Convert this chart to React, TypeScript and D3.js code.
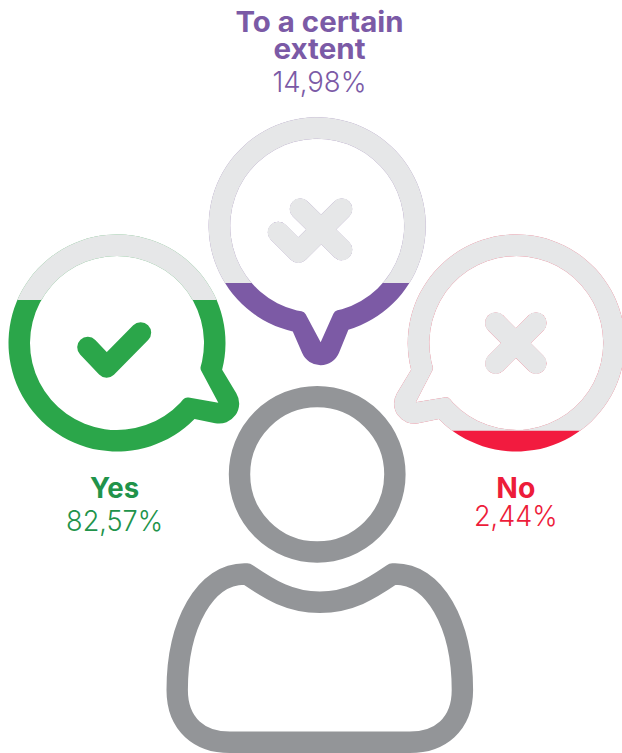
import React from "react";
import * as d3 from "d3";

// ---- data ----
const categories = ["Yes", "To a certain extent", "No"];
const percentLabels = ["82,57%", "14,98%", "2,44%"];
const fillLevels = [0.698, 0.236, 0.096]; // share of the bubble's circle height that is coloured
const ringColors = ["#2ba64a", "#7c5aa5", "#f21b3f"];
const textColors = ["#21934a", "#7b5aa6", "#ed1c3a"];
const emptyColor = "#e6e7e8";
const personColor = "#939598";

// ---- layout ----
const W = 622;
const H = 753;
const R_OUT = 108.5;
const R_IN = 87;
const RING = 21.4;
const TIP_ROUND = 20;
const CORNER_ROUND = 6;

type Pt = [number, number];
// tail angles are in degrees, clockwise from the +x axis
const layout = [
  {
    cx: 117, cy: 343,
    outerTail: [14.3, 44.4], innerTail: [17.2, 38.3],
    outerApex: [168.6, 32], innerApex: [117.6, 30.5],
    icons: [[[-29.3, 4.3], [-10.3, 24.2], [23.7, -10.3]]] as Pt[][],
  },
  {
    cx: 317.2, cy: 225.8,
    outerTail: [73.3, 103], innerTail: [78.5, 98.5],
    outerApex: [171, 88.7], innerApex: [116.6, 88.3],
    icons: [
      [[-38.9, 6.5], [-18.9, 26.5], [24.5, -16.8]],
      [[-16.9, -16.8], [24.5, 23.9]],
    ] as Pt[][],
  },
  {
    cx: 516.3, cy: 343,
    outerTail: [135.6, 165.7], innerTail: [141.7, 162.8],
    outerApex: [168.6, 148], innerApex: [116.6, 149.5],
    icons: [
      [[-20.6, -20], [19.7, 20.3]],
      [[19.7, -20], [-20.6, 20.3]],
    ] as Pt[][],
  },
];

const labelLayout = [
  { x: 114.6, lines: [{ y: 497.5, w: 49 }], pct: { y: 530.7, w: 97 } },
  { x: 319.5, lines: [{ y: 32, w: 168 }, { y: 58.7, w: 92 }], pct: { y: 91.7, w: 94 } },
  { x: 515.8, lines: [{ y: 497.7, w: 39 }], pct: { y: 526, w: 83.6 } },
];

const rad = (d: number) => (d * Math.PI) / 180;

function bubblePath(g: (typeof layout)[number]) {
  const polar = (r: number, deg: number): Pt => [
    g.cx + r * Math.cos(rad(deg)),
    g.cy + r * Math.sin(rad(deg)),
  ];
  const p = d3.path();

  // outer contour: circle, then a rounded tail tip
  const [oa, ob] = g.outerTail;
  const oEnd = polar(R_OUT, ob);
  const oApex = polar(g.outerApex[0], g.outerApex[1]);
  p.arc(g.cx, g.cy, R_OUT, rad(ob), rad(oa) + 2 * Math.PI, false);
  p.arcTo(oApex[0], oApex[1], oEnd[0], oEnd[1], TIP_ROUND);
  p.closePath();

  // inner contour: circle, rounded shoulders, sharp tail point
  const [ia, ib] = g.innerTail;
  const gap = 5;
  const cA = polar(R_IN, ia);
  const cB = polar(R_IN, ib);
  const iApex = polar(g.innerApex[0], g.innerApex[1]);
  const start = polar(R_IN, ib + gap);
  p.moveTo(start[0], start[1]);
  p.arc(g.cx, g.cy, R_IN, rad(ib + gap), rad(ia - gap) + 2 * Math.PI, false);
  p.arcTo(cA[0], cA[1], iApex[0], iApex[1], CORNER_ROUND);
  p.lineTo(iApex[0], iApex[1]);
  p.arcTo(cB[0], cB[1], start[0], start[1], CORNER_ROUND);
  p.closePath();
  return p.toString();
}

function bodyPath() {
  const c = 319.8;
  const peak = 73;
  const half = 142.6;
  const flat = 90;
  const top = 574;
  const dip = 602.3;
  const side = 690;
  const bot = 742.3;
  const p = d3.path();
  p.moveTo(c - peak, top);
  p.bezierCurveTo(c - peak + 23.5, top + 16, c - peak + 43, dip, c, dip);
  p.bezierCurveTo(c + peak - 43, dip, c + peak - 23.5, top + 16, c + peak, top);
  p.bezierCurveTo(c + peak + 42, top - 2, c + half, top + 51, c + half, side);
  p.bezierCurveTo(c + half, side + 35, c + half - 23, bot, c + flat, bot);
  p.lineTo(c - flat, bot);
  p.bezierCurveTo(c - half + 23, bot, c - half, side + 35, c - half, side);
  p.bezierCurveTo(c - half, top + 51, c - peak - 42, top - 2, c - peak, top);
  p.closePath();
  return p.toString();
}

const iconLine = d3.line<Pt>();

const FONT = "Inter, 'Open Sans', sans-serif";

export default function App() {
  return (
    <svg
      width={W}
      height={H}
      viewBox={`0 0 ${W} ${H}`}
      style={{ position: "absolute", left: 0, top: 0, display: "block", background: "#fff" }}
    >
      {categories.map((cat, i) => {
        const g = layout[i];
        const y = d3.scaleLinear().domain([0, 1]).range([g.cy + R_OUT, g.cy - R_OUT]);
        const fillTop = y(fillLevels[i]);
        const d = bubblePath(g);
        const clipId = `empty-${i}`;
        const shape = (color: string, halo: number) => (
          <g>
            <path d={d} fill={color} fillRule="evenodd" stroke={color} strokeWidth={halo} />
            {g.icons.map((pts, k) => (
              <path
                key={k}
                d={iconLine(pts.map(([a, b]) => [g.cx + a, g.cy + b] as Pt)) ?? ""}
                fill="none"
                stroke={color}
                strokeLinejoin="round"
                strokeLinecap="round"
                strokeWidth={21 + halo}
              />
            ))}
          </g>
        );
        return (
          <g key={cat}>
            <clipPath id={clipId}>
              <rect x={0} y={0} width={W} height={fillTop} />
            </clipPath>
            {shape(ringColors[i], 0)}
            <g clipPath={`url(#${clipId})`}>{shape(emptyColor, 0.3)}</g>
          </g>
        );
      })}

      <g fill="none" stroke={personColor} strokeWidth={RING} strokeLinejoin="round">
        <circle cx={317.2} cy={474.3} r={77.7} />
        <path d={bodyPath()} />
      </g>

      {categories.map((cat, i) => {
        const l = labelLayout[i];
        const words = i === 1 ? ["To a certain", "extent"] : [cat];
        return (
          <g key={cat} textAnchor="middle" fontFamily={FONT} fill={textColors[i]}>
            {words.map((w, k) => (
              <text
                key={w}
                x={l.x}
                y={l.lines[k].y}
                fontSize={28}
                fontWeight={700}
                textLength={l.lines[k].w}
                lengthAdjust="spacingAndGlyphs"
              >
                {w}
              </text>
            ))}
            <text
              x={l.x}
              y={l.pct.y}
              fontSize={28.5}
              fontWeight={300}
              textLength={l.pct.w}
              lengthAdjust="spacingAndGlyphs"
            >
              {percentLabels[i]}
            </text>
          </g>
        );
      })}
    </svg>
  );
}
